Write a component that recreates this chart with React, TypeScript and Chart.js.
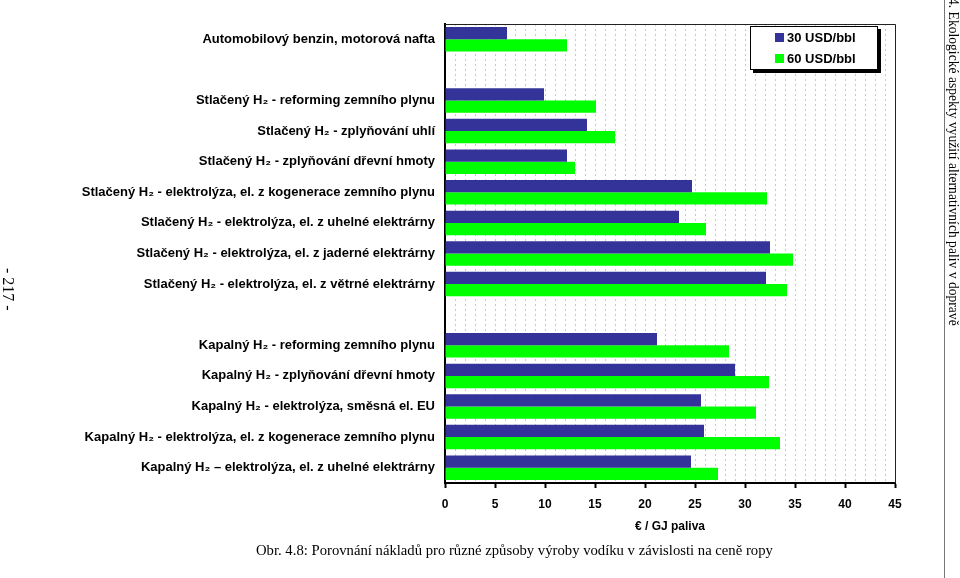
import React, { useEffect, useRef } from "react";
import { Chart, registerables } from "chart.js";

Chart.register(...registerables);

const categories: string[] = [
  "Automobilový benzin, motorová nafta",
  "",
  "Stlačený H₂ - reforming zemního plynu",
  "Stlačený H₂ - zplyňování uhlí",
  "Stlačený H₂ - zplyňování dřevní hmoty",
  "Stlačený H₂ - elektrolýza, el. z kogenerace zemního plynu",
  "Stlačený H₂ - elektrolýza, el. z uhelné elektrárny",
  "Stlačený H₂ - elektrolýza, el. z jaderné elektrárny",
  "Stlačený H₂ - elektrolýza, el. z větrné elektrárny",
  "",
  "Kapalný H₂ - reforming zemního plynu",
  "Kapalný H₂ - zplyňování dřevní hmoty",
  "Kapalný H₂ - elektrolýza, směsná el. EU",
  "Kapalný H₂ - elektrolýza, el. z kogenerace zemního plynu",
  "Kapalný H₂ – elektrolýza, el. z uhelné elektrárny",
];

const seriesNames: string[] = ["30 USD/bbl", "60 USD/bbl"];
const seriesColors: string[] = ["#333399", "#00ff00"];

const price30: (number | null)[] = [
  6.2, null, 9.9, 14.2, 12.2, 24.7, 23.4, 32.5, 32.1, null, 21.2, 29.0, 25.6, 25.9, 24.6,
];
const price60: (number | null)[] = [
  12.2, null, 15.1, 17.0, 13.0, 32.2, 26.1, 34.8, 34.2, null, 28.4, 32.4, 31.1, 33.5, 27.3,
];

const xMin = 0;
const xMax = 45;
const xAxisTitle = "€ / GJ paliva";
const caption = "Obr. 4.8: Porovnání nákladů pro různé způsoby výroby vodíku v závislosti na ceně ropy";
const headerText = "4. Ekologické aspekty využití alternativních paliv v dopravě";
const pageNumber = "- 217 -";

const FONT = "'Liberation Sans', Arial, Helvetica, sans-serif";
const SERIF = "'Liberation Serif', 'Times New Roman', serif";

const framePlugin = {
  id: "frame",
  afterDatasetsDraw(chart: any) {
    const { ctx, chartArea } = chart;
    ctx.save();
    ctx.strokeStyle = "#222";
    ctx.lineWidth = 1;
    ctx.beginPath();
    ctx.moveTo(chartArea.left, chartArea.top + 0.5);
    ctx.lineTo(chartArea.right + 0.5, chartArea.top + 0.5);
    ctx.lineTo(chartArea.right + 0.5, chartArea.bottom);
    ctx.stroke();
    ctx.restore();
  },
};

export default function App() {
  const canvasRef = useRef<HTMLCanvasElement | null>(null);

  useEffect(() => {
    document.body.style.margin = "0";
    const canvas = canvasRef.current;
    if (!canvas) return;
    const chart = new Chart(canvas, {
      type: "bar",
      data: {
        labels: categories,
        datasets: [
          {
            label: seriesNames[0],
            data: price30,
            backgroundColor: seriesColors[0],
            borderWidth: 0,
            barPercentage: 1.0,
            categoryPercentage: 0.8,
          },
          {
            label: seriesNames[1],
            data: price60,
            backgroundColor: seriesColors[1],
            borderWidth: 0,
            barPercentage: 1.0,
            categoryPercentage: 0.8,
          },
        ],
      },
      options: {
        indexAxis: "y",
        animation: false,
        responsive: true,
        maintainAspectRatio: false,
        layout: { padding: { left: 0, top: 24, right: 65, bottom: 40 } },
        plugins: {
          legend: { display: false },
          tooltip: { enabled: false },
        },
        scales: {
          x: {
            type: "linear",
            min: xMin,
            max: xMax,
            afterFit: (scale: any) => {
              scale.height = 55;
            },
            ticks: {
              stepSize: 1,
              autoSkip: false,
              maxRotation: 0,
              padding: 9,
              color: "#000",
              font: { family: FONT, size: 12, weight: "bold" },
              callback: (v: any) => (Number(v) % 5 === 0 ? String(v) : ""),
            },
            grid: {
              color: (c: any) => (c.tick && c.tick.value === 0 ? "transparent" : "#c8c8c8"),
              lineWidth: 1,
              tickLength: 5,
              tickColor: (c: any) => (c.tick && c.tick.value % 5 === 0 ? "#000" : "transparent"),
              tickWidth: 2,
            },
            border: { color: "#000", width: 2, dash: [2, 3] },
            title: {
              display: true,
              text: xAxisTitle,
              color: "#000",
              font: { family: FONT, size: 12, weight: "bold" },
            },
          },
          y: {
            afterFit: (scale: any) => {
              scale.width = 445;
            },
            ticks: {
              color: "#000",
              padding: 10,
              autoSkip: false,
              font: { family: FONT, size: 13, weight: "bold" },
            },
            grid: { display: false, drawTicks: false },
            border: { color: "#000", width: 2 },
          },
        },
      },
      plugins: [framePlugin],
    });
    return () => chart.destroy();
  }, []);

  return (
    <div style={{ position: "fixed", left: 0, top: 0, width: 960, height: 578, background: "#fff", overflow: "hidden" }}>
      <canvas ref={canvasRef} />
      <div
        style={{
          position: "absolute",
          left: 750,
          top: 26,
          width: 126,
          height: 42,
          border: "1px solid #000",
          boxShadow: "3px 3px 0 #000",
          background: "#fff",
          fontFamily: FONT,
          fontWeight: "bold",
          fontSize: 13,
          color: "#000",
        }}
      >
        {seriesNames.map((n, i) => (
          <div key={n} style={{ position: "absolute", left: 24, top: 2 + i * 21, height: 17, display: "flex", alignItems: "center" }}>
            <span style={{ display: "inline-block", width: 9, height: 9, background: seriesColors[i], marginRight: 3 }} />
            <span>{n}</span>
          </div>
        ))}
      </div>
      <div
        style={{
          position: "absolute",
          left: 256,
          top: 542,
          fontFamily: SERIF,
          fontSize: 14.7,
          color: "#000",
          whiteSpace: "nowrap",
        }}
      >
        {caption}
      </div>
      <div style={{ position: "absolute", left: 944, top: 0, width: 1, height: 578, background: "#777" }} />
      <div
        style={{
          position: "absolute",
          left: 946,
          top: -2,
          width: 14,
          height: 340,
          writingMode: "vertical-rl",
          fontFamily: SERIF,
          fontSize: 13.6,
          lineHeight: "14px",
          color: "#000",
          whiteSpace: "nowrap",
        }}
      >
        {headerText}
      </div>
      <div
        style={{
          position: "absolute",
          left: 0,
          top: 268,
          width: 16,
          writingMode: "vertical-rl",
          fontFamily: SERIF,
          fontSize: 16,
          lineHeight: "16px",
          color: "#000",
          whiteSpace: "nowrap",
        }}
      >
        {pageNumber}
      </div>
    </div>
  );
}
